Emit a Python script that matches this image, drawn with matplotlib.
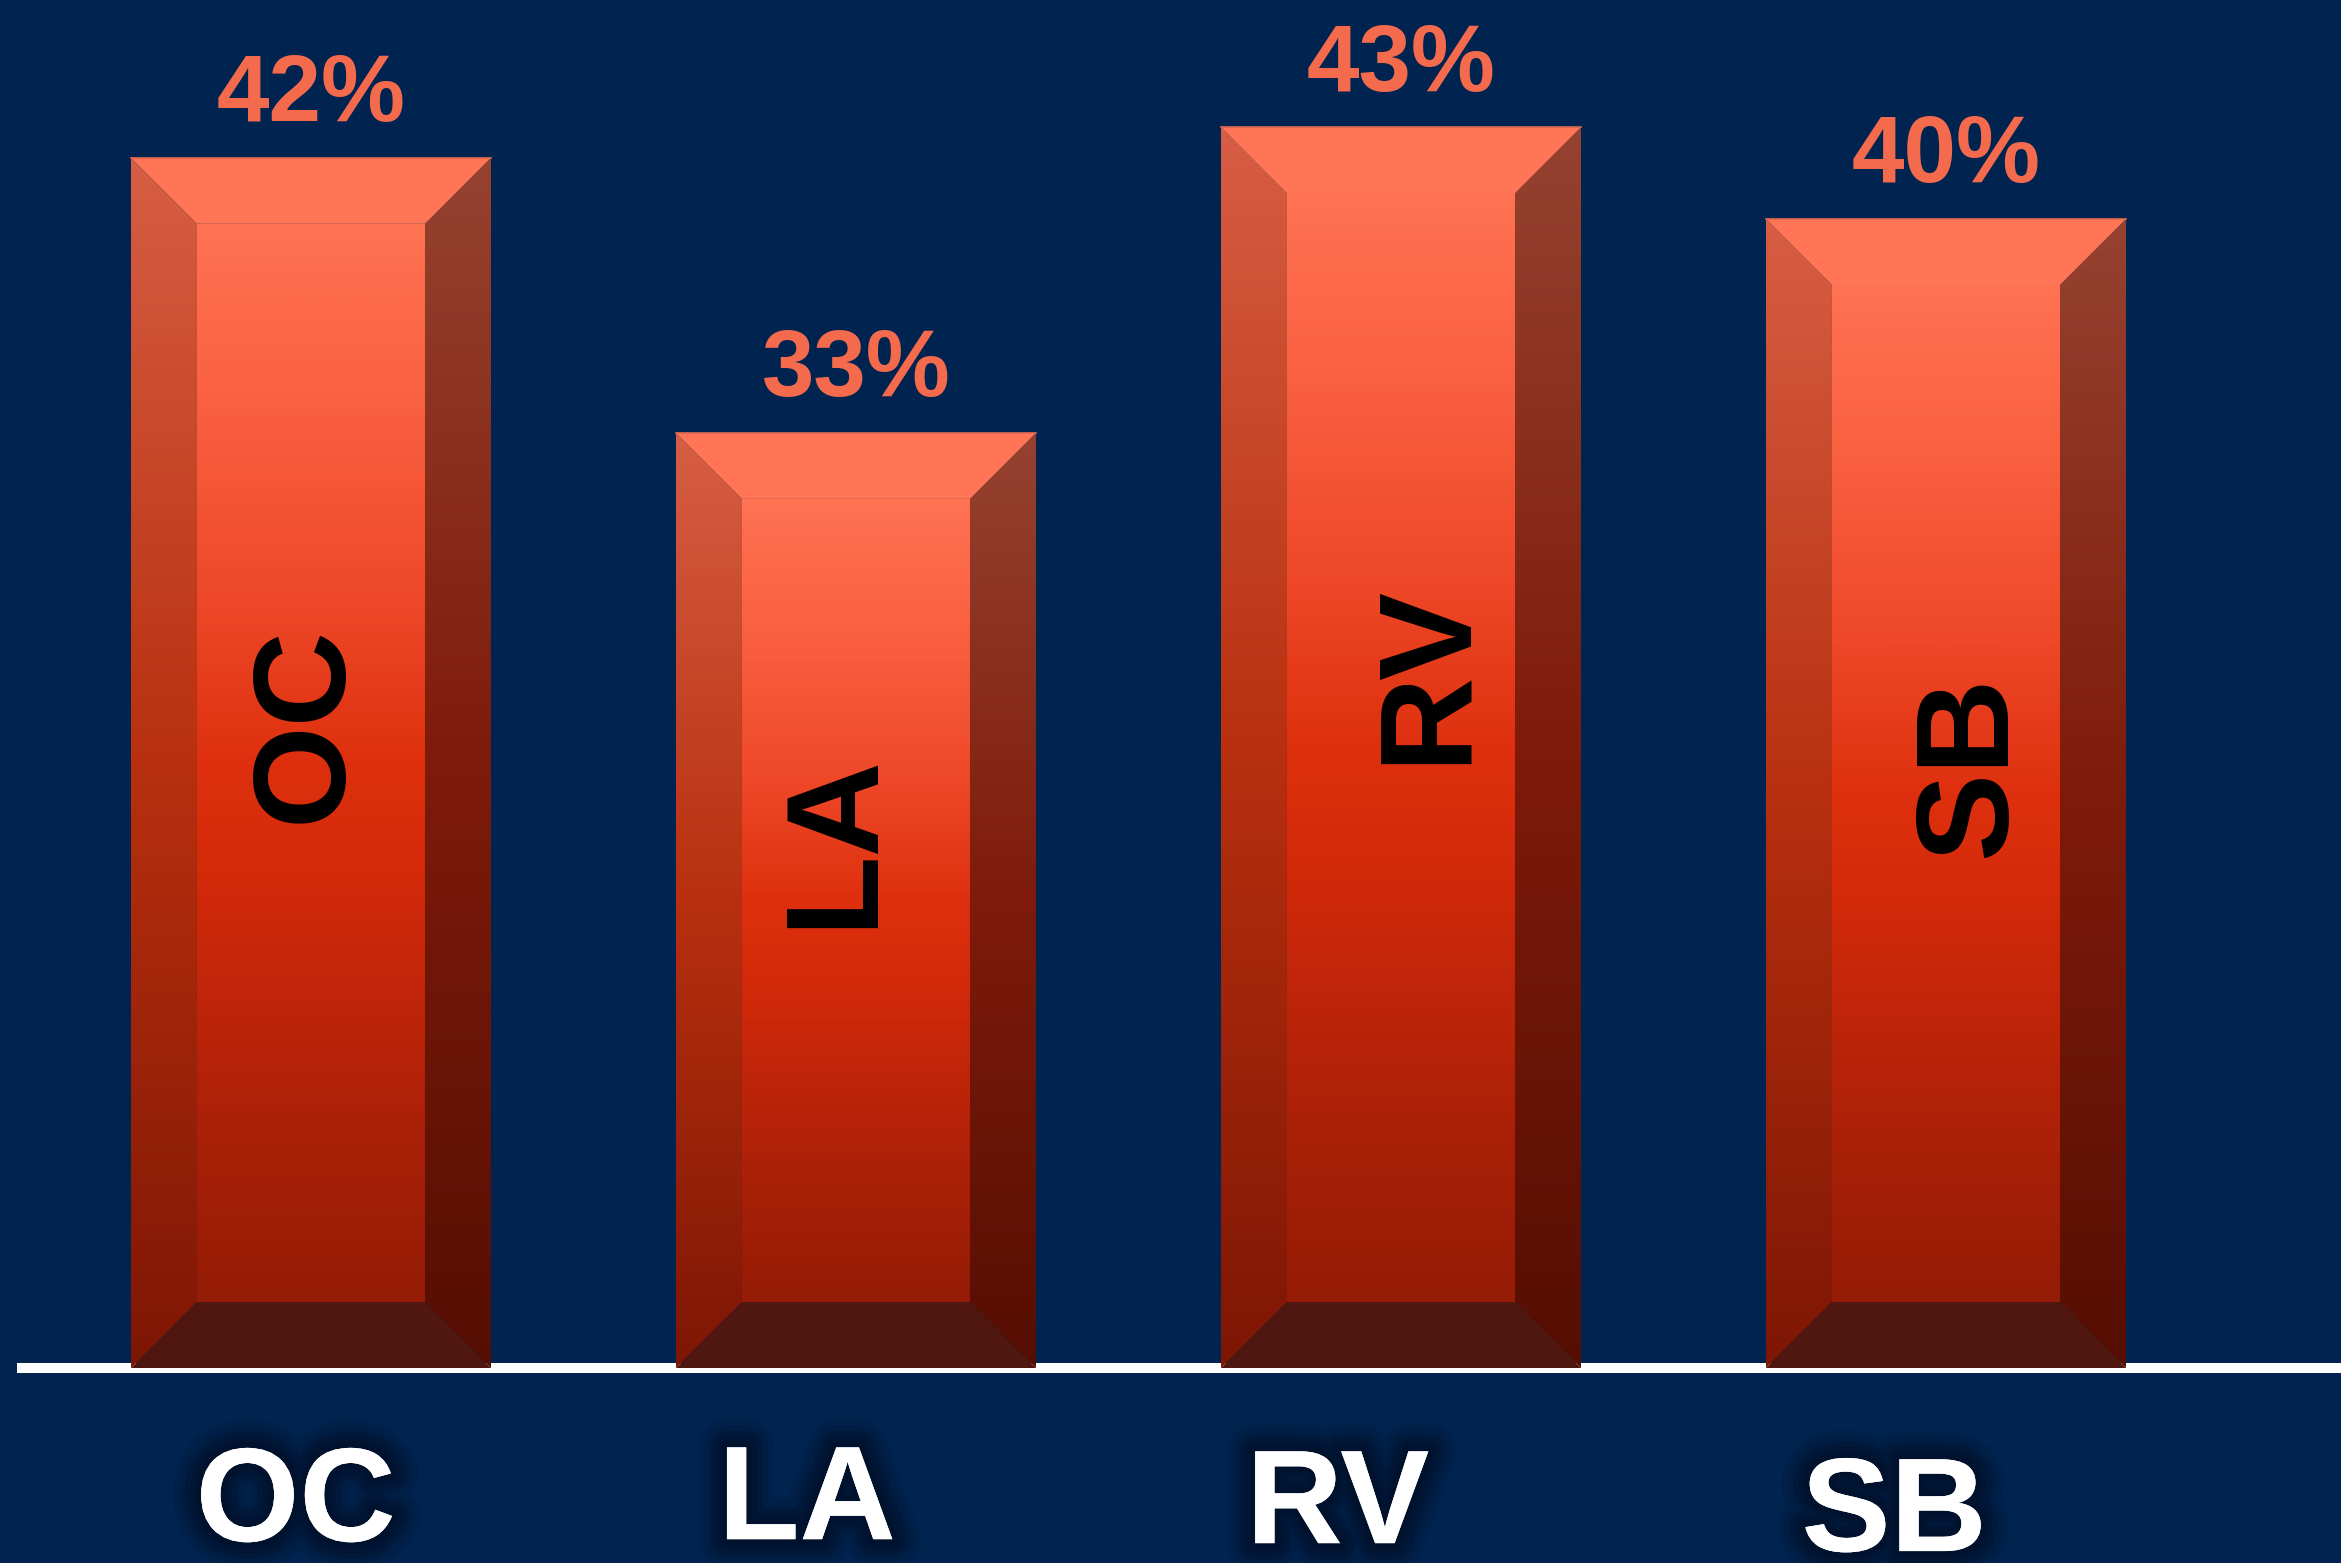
import numpy as np
import matplotlib
matplotlib.use('Agg')
import matplotlib.pyplot as plt
import matplotlib.patheffects as pe
from matplotlib.patches import Polygon
from matplotlib.colors import LinearSegmentedColormap

# data
categories = ['OC', 'LA', 'RV', 'SB']
values = [42, 33, 43, 40]
value_labels = ['42%', '33%', '43%', '40%']

# label placement tweaks (offset from bar index, in data units)
inner_dx = [0.055, 0.026, 0.114, 0.108]
inner_y = [23.46, 19.67, 25.13, 22.09]
bottom_dx = [-0.028, -0.090, -0.116, -0.095]
bottom_y = [-3.26, -3.20, -3.33, -3.59]

BG = '#002350'
PCT_COLOR = '#F36A4D'
BAR_W = 0.6606
BX = 0.1211   # bevel width
BY = 2.16     # bevel height
Y_MIN = 2.4   # axis starts a bit above zero

plt.rcParams['font.family'] = ['Liberation Sans', 'DejaVu Sans']

fig = plt.figure(figsize=(23.41, 15.63), dpi=100, facecolor=BG)
ax = fig.add_axes([0, 195 / 1563, 1, 1368 / 1563])
ax.set_facecolor(BG)
ax.axis('off')


def grad_poly(verts, colors, stops, x0, x1, y0, y1):
    poly = Polygon(verts, closed=True, facecolor='none', edgecolor='none')
    ax.add_patch(poly)
    cmap = LinearSegmentedColormap.from_list('g', list(zip(stops, colors)))
    grad = np.linspace(0, 1, 256).reshape(-1, 1)
    im = ax.imshow(grad, cmap=cmap, extent=[x0, x1, y0, y1], origin='lower',
                   aspect='auto', interpolation='bicubic', zorder=1)
    im.set_clip_path(poly)


face_c = ['#951C06', '#AA2008', '#D42A0A', '#DE300E', '#EE4828', '#FA6242', '#FF7252']
face_s = [0, 0.15, 0.4, 0.5, 0.65, 0.85, 1]
left_c = ['#7E1604', '#B8300F', '#D65E44']
right_c = ['#560E03', '#7E1B0A', '#964230']
bev_s = [0, 0.5, 1]

# baseline
ax.axhline(Y_MIN, xmin=22 / 2341, xmax=1, color='white', lw=7.2, zorder=0.5, clip_on=False)

glow = [pe.withStroke(linewidth=w, foreground='#00112B', alpha=a)
        for w, a in [(40, 0.15), (32, 0.2), (24, 0.3), (16, 0.45), (8, 0.7)]]

for i, v in enumerate(values):
    x0, x1 = i - BAR_W / 2, i + BAR_W / 2
    y0, y1 = Y_MIN, v
    face = [(x0 + BX, y0 + BY), (x1 - BX, y0 + BY), (x1 - BX, y1 - BY), (x0 + BX, y1 - BY)]
    left = [(x0, y0), (x0 + BX, y0 + BY), (x0 + BX, y1 - BY), (x0, y1)]
    right = [(x1, y0), (x1, y1), (x1 - BX, y1 - BY), (x1 - BX, y0 + BY)]
    top = [(x0, y1), (x1, y1), (x1 - BX, y1 - BY), (x0 + BX, y1 - BY)]
    bottom = [(x0, y0), (x1, y0), (x1 - BX, y0 + BY), (x0 + BX, y0 + BY)]
    grad_poly(face, face_c, face_s, x0, x1, y0 + BY, y1 - BY)
    grad_poly(left, left_c, bev_s, x0, x1, y0, y1)
    grad_poly(right, right_c, bev_s, x0, x1, y0, y1)
    ax.add_patch(Polygon(top, closed=True, facecolor='#FF7556', edgecolor='none', zorder=1.5))
    ax.add_patch(Polygon(bottom, closed=True, facecolor='#4F170F', edgecolor='none', zorder=1.5))
    ax.plot([x0, x1], [y1, y1], color='#E06A50', lw=1.2, zorder=1.6)

    # value on top
    ax.text(i, v + 1.2, value_labels[i], ha='center', va='baseline',
            fontsize=68, fontweight='bold', color=PCT_COLOR, zorder=3)

    # rotated label inside the bar
    ax.text(i + inner_dx[i], inner_y[i], categories[i], rotation=90,
            rotation_mode='anchor', ha='center', va='baseline',
            fontsize=95, fontweight='bold', color='black', zorder=3)

    # category under the axis, white with a dark glow
    ax.text(i + bottom_dx[i], bottom_y[i], categories[i], ha='center', va='baseline',
            fontsize=96, fontweight='bold', color='white', clip_on=False, zorder=3,
            path_effects=glow + [pe.Normal()])

ax.set_xlim(-0.5706, 3.7248)
ax.set_ylim(Y_MIN, Y_MIN + 1368 / 30.56)

fig.savefig('out.png', dpi=100, facecolor=BG)
